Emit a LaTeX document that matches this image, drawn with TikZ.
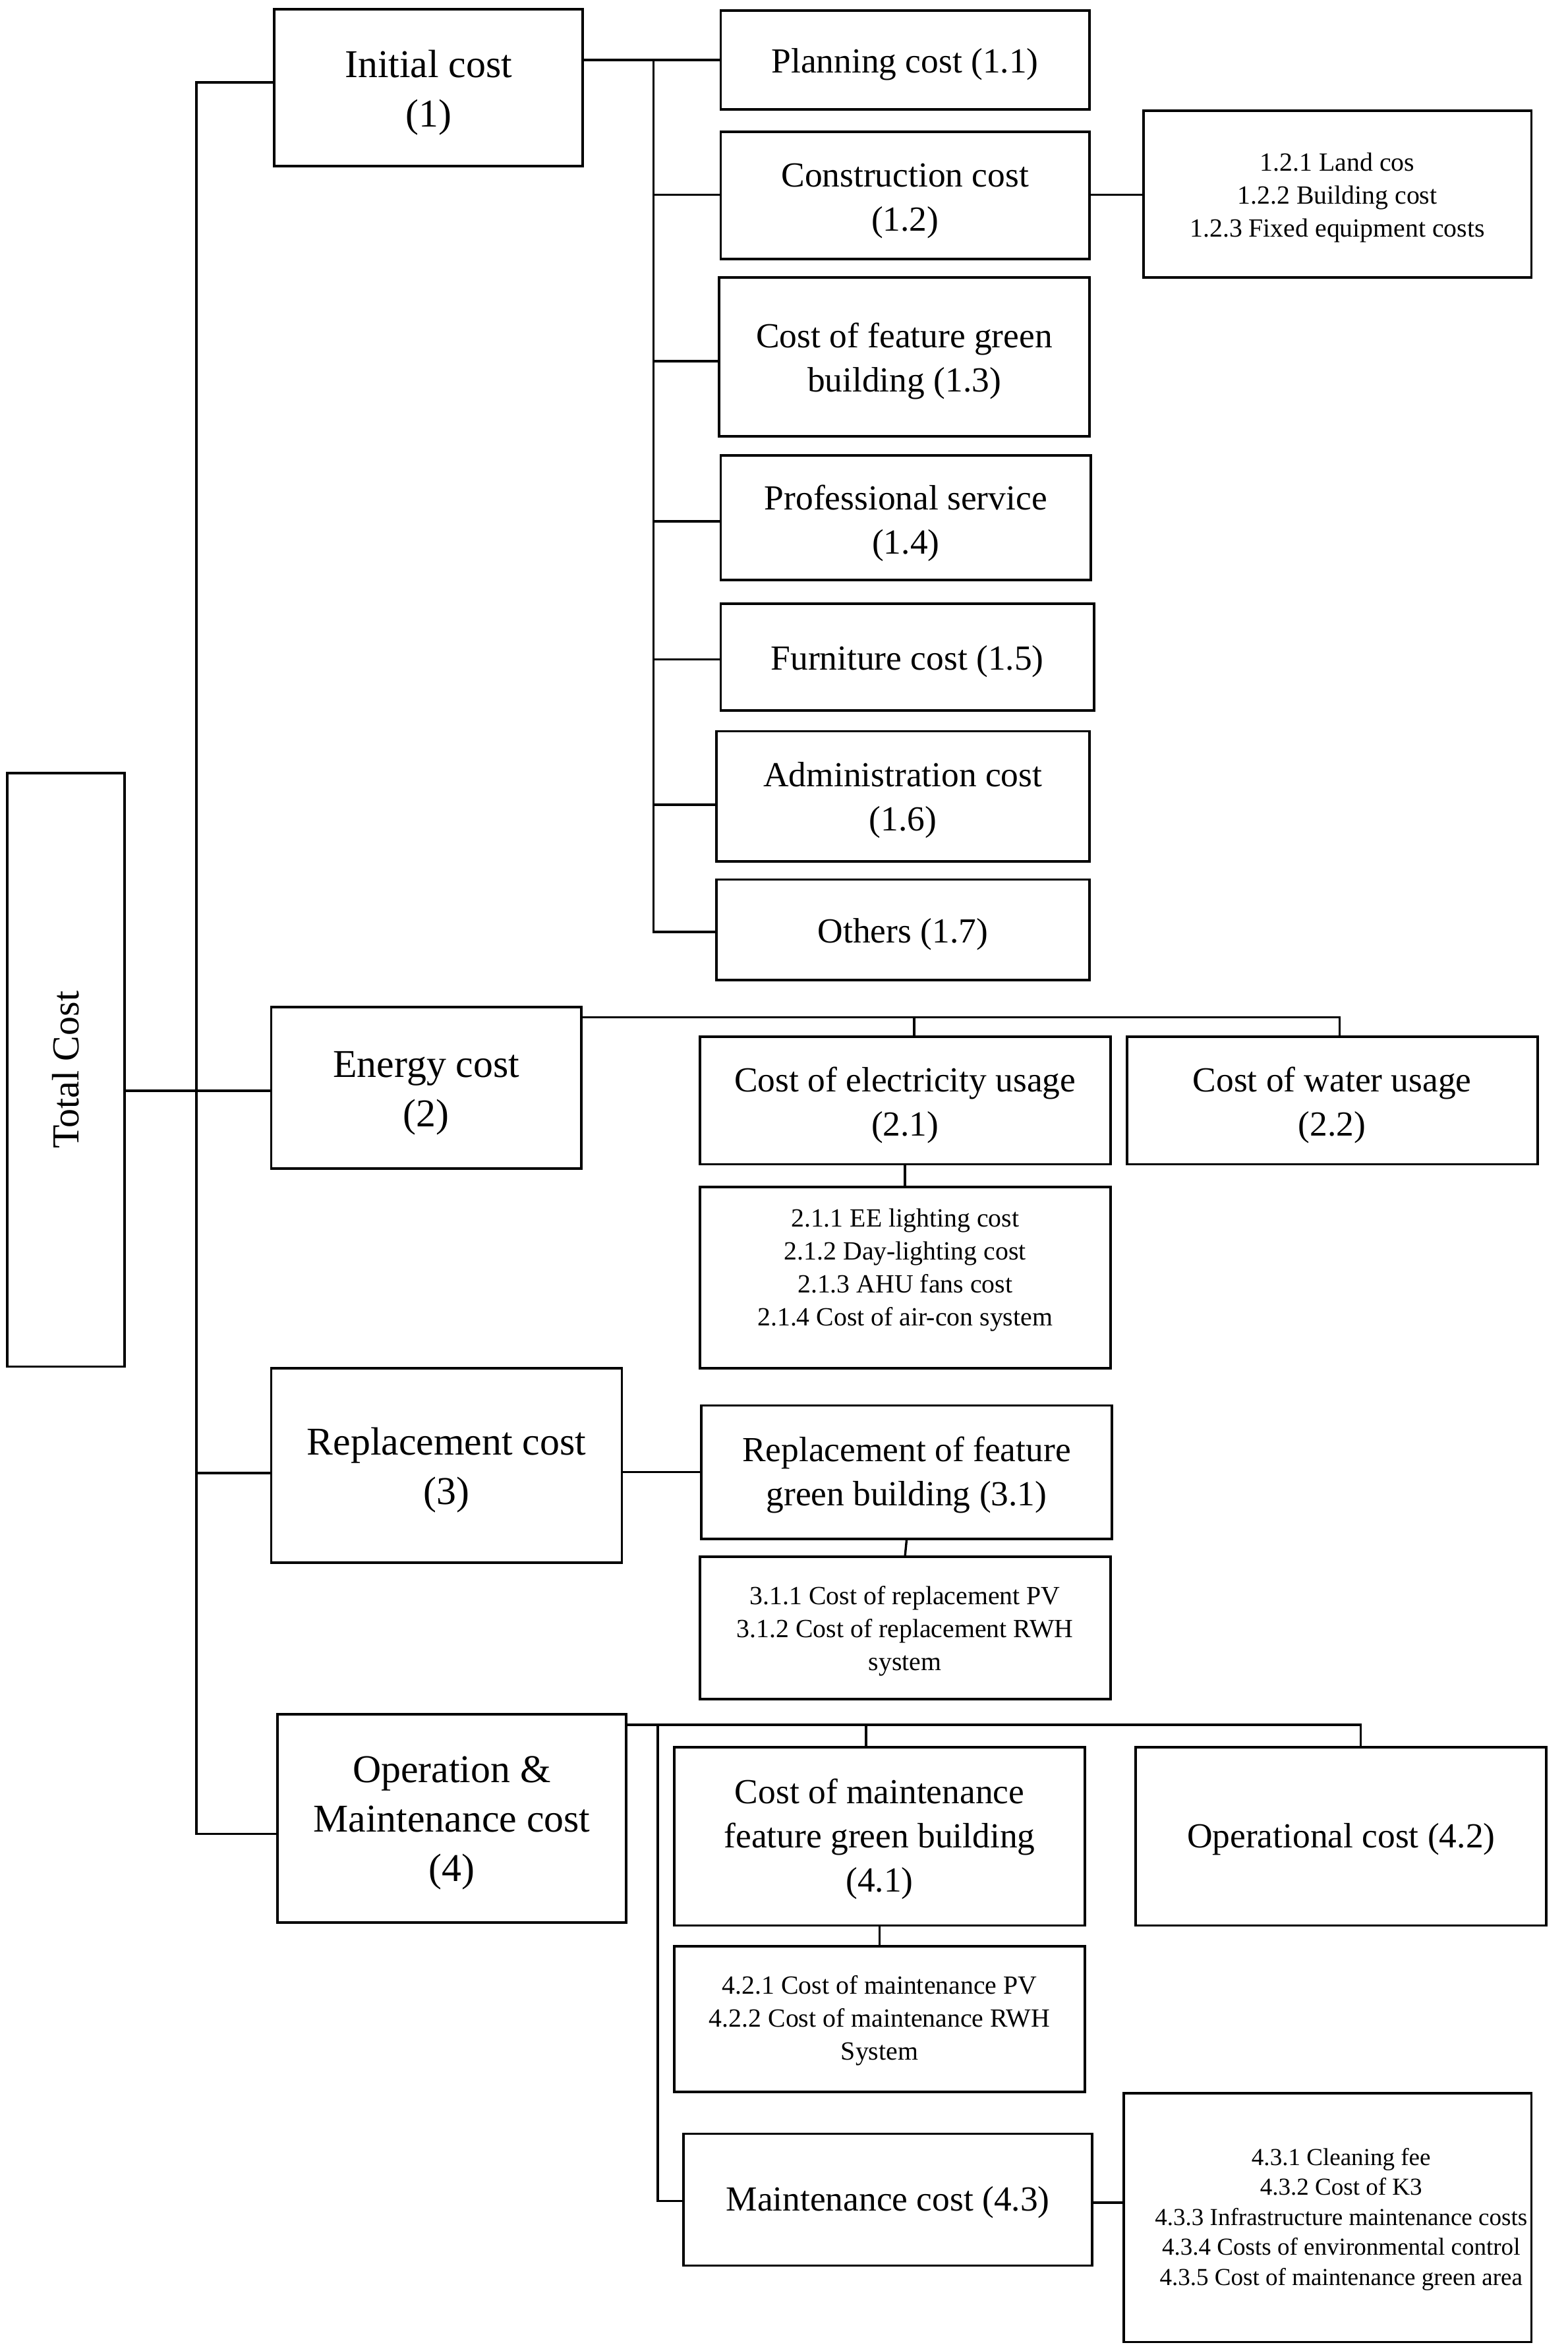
\documentclass[tikz,border=0pt]{standalone}
\usepackage{fontspec}
\setmainfont{Liberation Serif}
\begin{document}
\begin{tikzpicture}[x=1pt,y=-1pt,
  wh/.style n args={2}{minimum width=#1pt,minimum height=#2pt},
  frame/.style={draw,line width=1.7pt,inner sep=0pt},
  txt/.style={inner sep=0pt,align=center,font=\fontsize{23.5}{29.5}\selectfont},
  bigt/.style={txt,font=\fontsize{26.3}{33}\selectfont},
  st/.style={txt,font=\fontsize{17.5}{22}\selectfont},
  tt/.style={txt,font=\fontsize{16.3}{20}\selectfont},
  conn/.style={line width=1.5pt,line cap=rect}]
\useasboundingbox (0,0) rectangle (1046,1565);

% root
\node[frame,wh={78}{396}] (tot) at (44,714) {};
\node[txt,font=\fontsize{25.5}{30}\selectfont] (tott) at (tot.center) {\rotatebox{90}{Total Cost}};

% level 1
\node[frame,wh={206}{105}] (n1) at (286,58.5) {};
\node[bigt] (n1t) at ([yshift=-3.5pt]n1.center) {Initial cost\\(1)};
\node[frame,wh={207}{108}] (n2) at (284.5,726) {};
\node[bigt] (n2t) at ([yshift=-3.5pt]n2.center) {Energy cost\\(2)};
\node[frame,wh={234}{130}] (n3) at (298,978) {};
\node[bigt] (n3t) at ([yshift=-3pt]n3.center) {Replacement cost\\(3)};
\node[frame,wh={233}{139}] (n4) at (301.5,1213.5) {};
\node[bigt] (n4t) at ([yshift=-3pt]n4.center) {Operation \&\\Maintenance cost\\(4)};

% level 2 under initial cost
\node[frame,wh={246}{66}] (n11) at (604,40) {};
\node[txt] (n11t) at ([yshift=-3pt]n11.center) {Planning cost (1.1)};
\node[frame,wh={246}{85}] (n12) at (604,130.5) {};
\node[txt] (n12t) at ([yshift=-3.5pt]n12.center) {Construction cost\\(1.2)};
\node[frame,wh={259}{111}] (n12s) at (892.5,129.5) {};
\node[st] (n12st) at ([yshift=-2.5pt]n12s.center) {1.2.1 Land cos\\1.2.2 Building cost\\1.2.3 Fixed equipment costs};
\node[frame,wh={247}{106}] (n13) at (603.5,238) {};
\node[txt] (n13t) at ([yshift=-3pt]n13.center) {Cost of feature green\\building (1.3)};
\node[frame,wh={247}{83}] (n14) at (604.5,345.5) {};
\node[txt] (n14t) at ([yshift=-3.5pt]n14.center) {Professional service\\(1.4)};
\node[frame,wh={249}{71}] (n15) at (605.5,438.5) {};
\node[txt] (n15t) at ([yshift=-3pt]n15.center) {Furniture cost (1.5)};
\node[frame,wh={249}{87}] (n16) at (602.5,531.5) {};
\node[txt] (n16t) at ([yshift=-2.5pt]n16.center) {Administration cost\\(1.6)};
\node[frame,wh={249}{67}] (n17) at (602.5,620.5) {};
\node[txt] (n17t) at ([yshift=-3pt]n17.center) {Others (1.7)};

% energy
\node[frame,wh={274}{85}] (n21) at (604,734.5) {};
\node[txt] (n21t) at ([yshift=-3pt]n21.center) {Cost of electricity usage\\(2.1)};
\node[frame,wh={274}{85}] (n22) at (889,734.5) {};
\node[txt] (n22t) at ([yshift=-3pt]n22.center) {Cost of water usage\\(2.2)};
\node[frame,wh={274}{121}] (n21s) at (604,852.5) {};
\node[st] (n21st) at ([yshift=5pt]n21s.center) {2.1.1 EE lighting cost\\2.1.2 Day-lighting cost\\2.1.3 AHU fans cost\\2.1.4 Cost of air-con system};

% replacement
\node[frame,wh={274}{89}] (n31) at (605,982.5) {};
\node[txt] (n31t) at ([yshift=-2pt]n31.center) {Replacement of feature\\green building (3.1)};
\node[frame,wh={274}{95}] (n31s) at (604,1086.5) {};
\node[st] (n31st) at ([yshift=-2pt]n31s.center) {3.1.1 Cost of replacement PV\\3.1.2 Cost of replacement RWH\\system};

% operation & maintenance
\node[frame,wh={274}{119}] (n41) at (587,1225.5) {};
\node[txt] (n41t) at ([yshift=-2pt]n41.center) {Cost of maintenance\\feature green building\\(4.1)};
\node[frame,wh={274}{119}] (n42) at (895,1225.5) {};
\node[txt] (n42t) at ([yshift=-2pt]n42.center) {Operational cost (4.2)};
\node[frame,wh={274}{97}] (n41s) at (587,1347.5) {};
\node[st] (n41st) at ([yshift=-1pt]n41s.center) {4.2.1 Cost of maintenance PV\\4.2.2 Cost of maintenance RWH\\System};
\node[frame,wh={273}{88}] (n43) at (592.5,1468) {};
\node[txt] (n43t) at ([yshift=-2pt]n43.center) {Maintenance cost (4.3)};
\node[frame,wh={272}{166}] (n43s) at (886,1480) {};
\node[tt] (n43st) at ([xshift=9pt,yshift=-1pt]n43s.center) {4.3.1 Cleaning fee\\4.3.2 Cost of K3\\4.3.3 Infrastructure maintenance costs\\4.3.4 Costs of environmental control\\4.3.5 Cost of maintenance green area};

% main trunk
\coordinate (tkA) at (131,55);
\coordinate (tkB) at (131,1224);
\coordinate (tk2) at (131,728);
\coordinate (tk3) at (131,983);
\draw[conn] (tkA) -- (tkB);
\draw[conn] (tkA) -- (tkA -| n1.west);
\draw[conn] (tk2 -| tot.east) -- (tk2 -| n2.west);
\draw[conn] (tk3) -- (tk3 -| n3.west);
\draw[conn] (tkB) -- (tkB -| n4.west);

% initial cost sub-trunk
\coordinate (s1a) at (436,40);
\coordinate (s1b) at (436,622);
\draw[conn] (s1a -| n1.east) -- (n11.west);
\draw[conn] (s1a) -- (s1b);
\foreach \n/\y in {n12/130,n13/241,n14/348,n15/440,n16/537,n17/622}
  \draw[conn] (436,\y) -- (\n.west |- 436,\y);
\draw[conn] (n12.east |- 0,130) -- (n12s.west |- 0,130);

% energy connectors
\coordinate (eY) at (0,679);
\draw[conn] (n2.east |- eY) -- (894,679) -- (n22.north -| 894,0);
\draw[conn] (610,679) -- (n21.north -| 610,0);
\draw[conn] (n21.south) -- (n21s.north);

% replacement connectors
\draw[conn] (n31.west -| n3.east) -- (n31.west);
\draw[conn] (n31.south) -- (n31s.north);

% O&M connectors
\draw[conn] (n4.east |- 0,1151) -- (908,1151) -- (n42.north -| 908,0);
\draw[conn] (578,1151) -- (n41.north -| 578,0);
\draw[conn] (439,1151) -- (439,1469) -- (n43.west |- 0,1469);
\draw[conn] (n41.south) -- (n41s.north);
\draw[conn] (n43.east |- 0,1470) -- (n43s.west |- 0,1470);
\end{tikzpicture}
\end{document}
